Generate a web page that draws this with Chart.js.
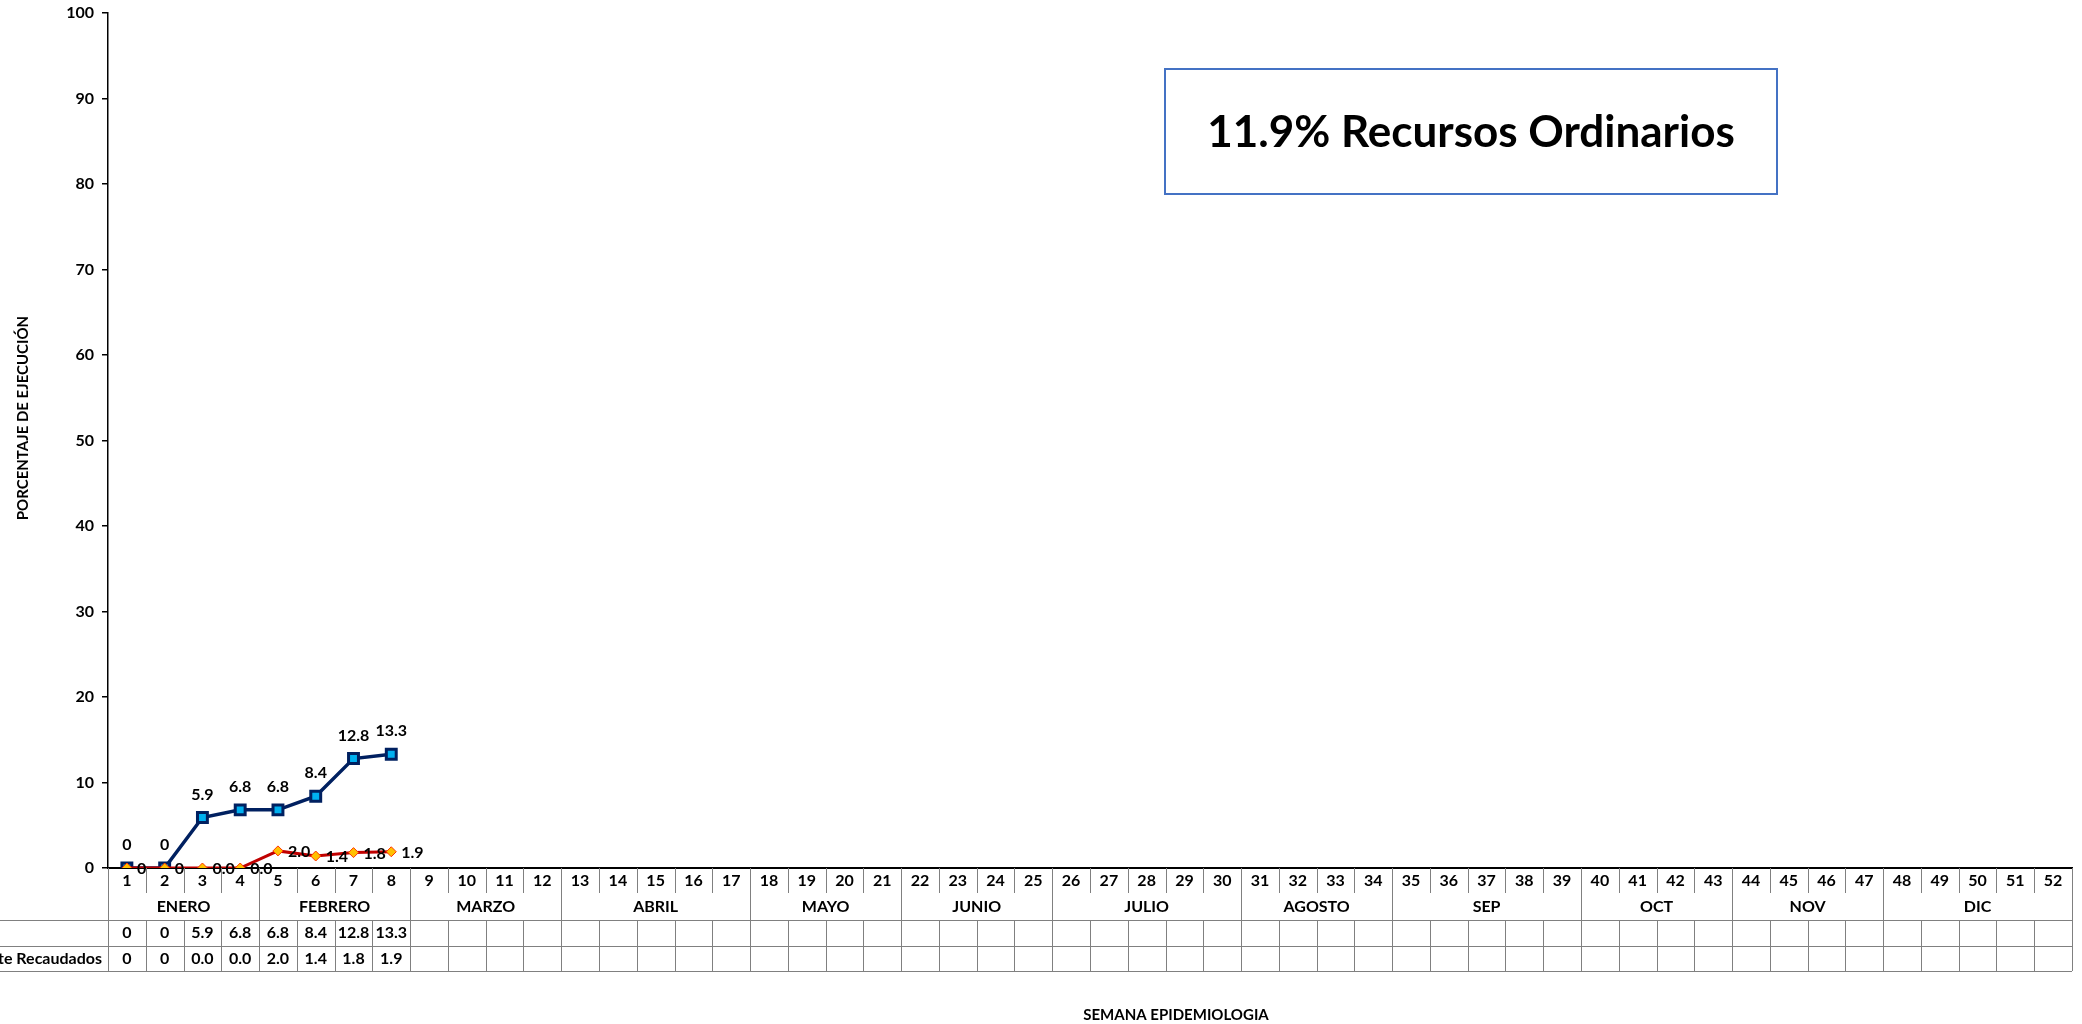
<!DOCTYPE html>
<html>
<head>
<meta charset="utf-8">
<script src="https://cdn.jsdelivr.net/npm/chart.js@4.4.1/dist/chart.umd.min.js"></script>
<style>
  html, body { margin: 0; padding: 0; background: #ffffff; }
  #wrap { width: 2082px; height: 1024px; }
</style>
</head>
<body>
<div id="wrap"><canvas id="ejecucionChart" width="2082" height="1024"></canvas></div>
<script>
// semanas epidemiologicas (eje X)
const semanas = ['1','2','3','4','5','6','7','8','9','10','11','12','13','14','15','16','17','18','19','20',
  '21','22','23','24','25','26','27','28','29','30','31','32','33','34','35','36','37','38','39','40',
  '41','42','43','44','45','46','47','48','49','50','51','52'];
const meses = ['ENERO','FEBRERO','MARZO','ABRIL','MAYO','JUNIO','JULIO','AGOSTO','SEP','OCT','NOV','DIC'];
const semanasPorMes = [4, 4, 4, 5, 4, 4, 5, 4, 5, 4, 4, 5];

// series (% de ejecucion)
const recursosOrdinarios = [0, 0, 5.9, 6.8, 6.8, 8.4, 12.8, 13.3];
const directamenteRecaudados = [0, 0, 0.0, 0.0, 2.0, 1.4, 1.8, 1.9];
const etiquetasRO = ['0', '0', '5.9', '6.8', '6.8', '8.4', '12.8', '13.3'];
const etiquetasRDR = ['0', '0', '0.0', '0.0', '2.0', '1.4', '1.8', '1.9'];
const etiquetasFilas = ['', 'Directamente Recaudados'];

const yTicks = [0, 10, 20, 30, 40, 50, 60, 70, 80, 90, 100];
const resumen = '11.9% Recursos Ordinarios';

const FONT = 'Lato, "Open Sans", sans-serif';

// tabla de datos bajo el eje + etiquetas + recuadro de resumen
const tablaPlugin = {
    id: 'tablaDatos',
    afterDatasetsDraw(chart) {
        const ctx = chart.ctx;
        ctx.save();
        ctx.fillStyle = '#000';
        ctx.font = 'bold 16px ' + FONT;
        // etiquetas serie azul: encima del punto
        chart.getDatasetMeta(0).data.forEach(function (pt, i) {
            ctx.textAlign = 'center';
            ctx.textBaseline = 'middle';
            ctx.fillText(etiquetasRO[i], pt.x, pt.y - 23);
        });
        // etiquetas serie roja: a la derecha
        chart.getDatasetMeta(1).data.forEach(function (pt, i) {
            ctx.textAlign = 'left';
            ctx.textBaseline = 'middle';
            ctx.fillText(etiquetasRDR[i], pt.x + 10, pt.y + 1);
        });
        ctx.restore();
    },
    afterDraw(chart) {
        const ctx = chart.ctx;
        const x = chart.scales.x;
        const area = chart.chartArea;
        const colW = (x.right - x.left) / semanas.length;
        const y0 = area.bottom;
        const filaSemana = y0 + 25;
        const filaMes = y0 + 52;
        const fila1 = y0 + 78;
        const fila2 = y0 + 103;

        ctx.save();
        ctx.strokeStyle = '#808080';
        ctx.lineWidth = 1;

        // limites de meses
        const limites = [0];
        semanasPorMes.reduce(function (acc, n) { limites.push(acc + n); return acc + n; }, 0);

        for (let i = 0; i <= semanas.length; i++) {
            const xi = Math.round(x.left + i * colW) + 0.5;
            ctx.beginPath();
            if (limites.indexOf(i) >= 0) {
                ctx.moveTo(xi, y0); ctx.lineTo(xi, fila2);
            } else {
                ctx.moveTo(xi, y0); ctx.lineTo(xi, filaSemana);
                ctx.moveTo(xi, filaMes); ctx.lineTo(xi, fila2);
            }
            ctx.stroke();
        }
        [filaMes, fila1, fila2].forEach(function (yy) {
            ctx.beginPath();
            ctx.moveTo(0, yy + 0.5);
            ctx.lineTo(x.right, yy + 0.5);
            ctx.stroke();
        });

        ctx.fillStyle = '#000';
        ctx.textBaseline = 'middle';
        ctx.textAlign = 'center';
        ctx.font = 'bold 16px ' + FONT;
        semanas.forEach(function (s, i) {
            ctx.fillText(s, x.getPixelForValue(i), y0 + 13);
        });
        meses.forEach(function (m, k) {
            const a = x.left + limites[k] * colW;
            const b = x.left + limites[k + 1] * colW;
            ctx.fillText(m, (a + b) / 2, y0 + 39);
        });
        etiquetasRO.forEach(function (t, i) {
            ctx.fillText(t, x.getPixelForValue(i), y0 + 65);
        });
        etiquetasRDR.forEach(function (t, i) {
            ctx.fillText(t, x.getPixelForValue(i), y0 + 91);
        });
        ctx.textAlign = 'right';
        ctx.fillText(etiquetasFilas[0], x.left - 6, y0 + 65);
        ctx.fillText(etiquetasFilas[1], x.left - 6, y0 + 91);

        // titulos de ejes
        ctx.textAlign = 'center';
        ctx.font = 'bold 15px ' + FONT;
        ctx.fillText('SEMANA EPIDEMIOLOGIA', 1176, 1015);
        ctx.save();
        ctx.translate(23, 418);
        ctx.rotate(-Math.PI / 2);
        ctx.fillText('PORCENTAJE DE EJECUCIÓN', 0, 0);
        ctx.restore();

        // recuadro de resumen
        ctx.strokeStyle = '#4472C4';
        ctx.lineWidth = 2;
        ctx.strokeRect(1165, 69, 612, 125);
        ctx.font = 'bold 44px ' + FONT;
        ctx.fillText(resumen, 1471, 133);
        ctx.restore();
    }
};

const chart = new Chart(document.getElementById('ejecucionChart'), {
    type: 'line',
    data: {
        labels: semanas,
        datasets: [
            {
                label: 'Recursos Ordinarios',
                data: recursosOrdinarios,
                borderColor: '#002060',
                borderWidth: 3.5,
                pointStyle: 'rect',
                pointRadius: 7,
                pointBackgroundColor: '#00B0F0',
                pointBorderColor: '#002060',
                pointBorderWidth: 3,
                tension: 0,
                order: 1
            },
            {
                label: 'Directamente Recaudados',
                data: directamenteRecaudados,
                borderColor: '#C00000',
                borderWidth: 3,
                pointStyle: 'rectRot',
                pointRadius: 5,
                pointBackgroundColor: '#FFC000',
                pointBorderColor: '#FF3300',
                pointBorderWidth: 1,
                tension: 0,
                order: 0
            }
        ]
    },
    options: {
        responsive: false,
        animation: false,
        layout: { padding: { left: 0, top: 13, right: 8, bottom: 0 } },
        plugins: { legend: { display: false }, tooltip: { enabled: false } },
        scales: {
            x: {
                type: 'category',
                offset: true,
                grid: { display: false },
                ticks: { display: false },
                border: { color: '#000', width: 2 },
                afterFit: function (scale) { scale.height = 156; }
            },
            y: {
                min: 0,
                max: 100,
                afterBuildTicks: function (scale) { scale.ticks = yTicks.map(function (v) { return { value: v }; }); },
                ticks: { color: '#000', font: { family: FONT, size: 16, weight: 'bold' }, padding: 8 },
                grid: { drawOnChartArea: false, drawTicks: true, tickLength: 6, color: '#000', lineWidth: 1.5 },
                border: { color: '#000', width: 1.5 },
                afterFit: function (scale) {
                    scale.width = 108;
                    scale.paddingTop = 0;
                    scale.paddingBottom = 0;
                }
            }
        }
    },
    plugins: [tablaPlugin]
});
</script>
</body>
</html>
